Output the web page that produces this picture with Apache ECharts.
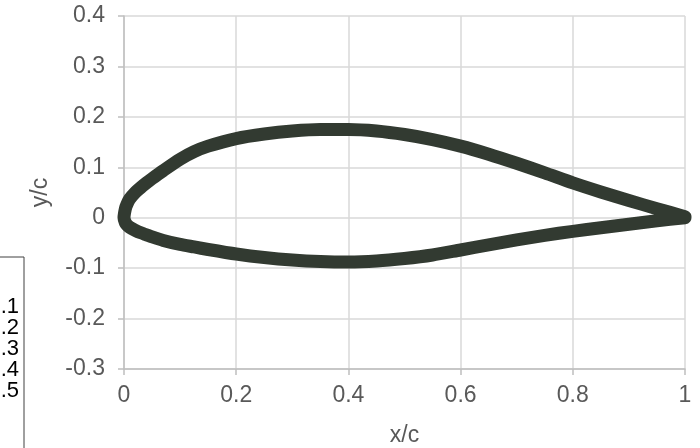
<!DOCTYPE html>
<html>
<head>
<meta charset="utf-8">
<script src="https://cdn.jsdelivr.net/npm/echarts@6/dist/echarts.min.js"></script>
<style>
html,body{margin:0;padding:0;background:#fff;}
#chart{width:700px;height:448px;}
</style>
</head>
<body>
<div id="chart"></div>
<script>
// Airfoil coordinates (x/c) shared by both surfaces
var xc = [0, 0.0025, 0.005, 0.01, 0.02, 0.03, 0.04, 0.05, 0.07, 0.1, 0.125, 0.15, 0.2, 0.25, 0.3, 0.35, 0.4, 0.45, 0.5, 0.55, 0.6, 0.65, 0.7, 0.75, 0.8, 0.85, 0.9, 0.95, 1.0];
var upperY = [0, 0.018, 0.026, 0.037, 0.050, 0.060, 0.069, 0.0775, 0.0935, 0.116, 0.131, 0.142, 0.157, 0.166, 0.172, 0.175, 0.175, 0.172, 0.165, 0.155, 0.142, 0.126, 0.108, 0.089, 0.069, 0.051, 0.034, 0.018, 0.002];
var lowerY = [0, -0.010, -0.014, -0.019, -0.025, -0.030, -0.034, -0.038, -0.045, -0.053, -0.058, -0.063, -0.072, -0.079, -0.084, -0.087, -0.088, -0.086, -0.081, -0.074, -0.064, -0.054, -0.044, -0.035, -0.027, -0.020, -0.013, -0.006, 0.0];
var boxLabels = ['.1', '.2', '.3', '.4', '.5'];

var data = [];
for (var i = xc.length - 1; i >= 0; i--) data.push([xc[i], upperY[i]]);
for (var j = 1; j < xc.length; j++) data.push([xc[j], lowerY[j]]);

var font = '"Liberation Sans", Arial, sans-serif';
var chart = echarts.init(document.getElementById('chart'));

var titles = boxLabels.map(function (t, k) {
  return {
    text: t, right: 681, top: 296 + k * 21, padding: 0,
    textStyle: {color: '#000', fontSize: 22, fontWeight: 'normal', fontFamily: font}
  };
});

chart.setOption({
  animation: false,
  backgroundColor: '#fff',
  title: titles,
  grid: {left: 124, right: 15, top: 16, bottom: 79, outerBoundsMode: 'none', containLabel: false},
  xAxis: {
    type: 'value', min: 0, max: 1, interval: 0.2,
    name: 'x/c', nameLocation: 'middle', nameGap: 55,
    nameTextStyle: {color: '#595959', fontSize: 23, fontFamily: font},
    axisLine: {show: true, onZero: false, lineStyle: {color: '#bfbfbf', width: 1.5}},
    axisTick: {show: true, length: 6, lineStyle: {color: '#bfbfbf', width: 1.5}},
    axisLabel: {color: '#595959', fontSize: 23, fontFamily: font, margin: 15,
      formatter: function (v) { return String(+v.toFixed(1)); }},
    splitLine: {show: true, lineStyle: {color: '#d9d9d9', width: 1.5}}
  },
  yAxis: {
    type: 'value', min: -0.3, max: 0.4, interval: 0.1,
    name: 'y/c', nameLocation: 'middle', nameGap: 72, nameRotate: 90,
    nameTextStyle: {color: '#595959', fontSize: 23, fontFamily: font},
    axisLine: {show: true, onZero: false, lineStyle: {color: '#bfbfbf', width: 1.5}},
    axisTick: {show: true, length: 6, lineStyle: {color: '#bfbfbf', width: 1.5}},
    axisLabel: {color: '#595959', fontSize: 23, fontFamily: font, margin: 19,
      formatter: function (v) { return String(+v.toFixed(1)); }},
    splitLine: {show: true, lineStyle: {color: '#d9d9d9', width: 1.5}}
  },
  series: [{
    type: 'line',
    data: data,
    showSymbol: false,
    smooth: 0.25,
    lineStyle: {color: '#323a31', width: 13, cap: 'round', join: 'round'},
    clip: false
  }],
  graphic: [{
    type: 'rect', shape: {x: -10, y: 257, width: 34, height: 260},
    style: {fill: 'none', stroke: '#404040', lineWidth: 1}
  }]
});
</script>
</body>
</html>
